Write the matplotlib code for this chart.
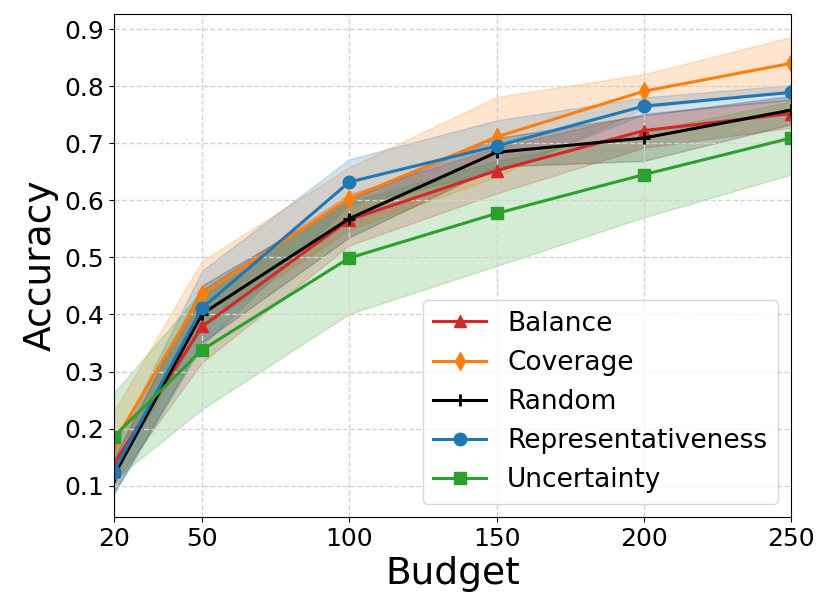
import numpy as np
import matplotlib
matplotlib.use("Agg")
import matplotlib.pyplot as plt

budgets = [20, 50, 100, 150, 200, 250]

balance = [0.138, 0.379, 0.566, 0.652, 0.722, 0.752]
balance_std = [0.035, 0.063, 0.045, 0.040, 0.030, 0.025]

coverage = [0.175, 0.436, 0.603, 0.711, 0.791, 0.840]
coverage_std = [0.055, 0.058, 0.055, 0.070, 0.030, 0.046]

random_ = [0.117, 0.401, 0.568, 0.684, 0.709, 0.758]
random_std = [0.030, 0.050, 0.033, 0.025, 0.040, 0.025]

represent = [0.125, 0.411, 0.632, 0.695, 0.765, 0.789]
represent_std = [0.040, 0.066, 0.040, 0.045, 0.015, 0.013]

uncertainty = [0.186, 0.338, 0.499, 0.577, 0.645, 0.709]
uncertainty_std = [0.076, 0.104, 0.098, 0.092, 0.075, 0.064]

series = [
    ("Balance", balance, balance_std, "tab:red", "^"),
    ("Coverage", coverage, coverage_std, "tab:orange", "d"),
    ("Random", random_, random_std, "black", "+"),
    ("Representativeness", represent, represent_std, "tab:blue", "o"),
    ("Uncertainty", uncertainty, uncertainty_std, "tab:green", "s"),
]

fig, ax = plt.subplots(figsize=(8.3, 6.15), dpi=100)
fig.subplots_adjust(left=0.137, right=0.953, bottom=0.159, top=0.977)

x = np.array(budgets)
for nome, media, desvio, cor, marc in series:
    media = np.array(media)
    desvio = np.array(desvio)
    ax.plot(x, media, marker=marc, color=cor, label=nome, linewidth=2.2,
            markersize=9, markeredgewidth=2 if marc == "+" else 1)
    ax.fill_between(x, media - desvio, media + desvio, color=cor, alpha=0.2)

ax.set_xlim(20, 250)
ax.set_xticks(budgets)
ax.set_xlabel("Budget", fontsize=27)
ax.set_ylabel("Accuracy", fontsize=27)
ax.tick_params(axis="both", labelsize=18)
ax.grid(True, linestyle="--", color="lightgray", linewidth=1)
ax.legend(loc="lower right", fontsize=19)

fig.savefig("out.png", dpi=100)
